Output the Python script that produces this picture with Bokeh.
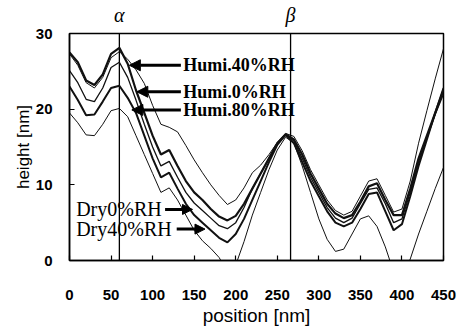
from bokeh.plotting import figure
from bokeh.models import (Range1d, FixedTicker, Label, Arrow, NormalHead,
                          LinearAxis, Title)
from bokeh.embed import file_html
from bokeh.resources import INLINE

# ---------------- data ----------------
positions = [0, 10, 20, 30, 40, 50, 60, 70, 80, 90,
             100, 110, 120, 130, 140, 150, 160, 170, 180, 190,
             200, 210, 220, 230, 240, 250, 260, 270, 280, 290,
             300, 310, 320, 330, 340, 350, 360, 370, 380, 390,
             400, 410, 420, 430, 440, 450]

curve_a = [27.5, 26.2, 23.8, 23.2, 24.6, 27.3, 28.1, 26.0, 22.5, 19.5,
           16.5, 14.0, 14.6, 12.5, 10.5, 9.0, 8.0, 6.8, 5.8, 5.3,
           5.9, 7.5, 9.5, 11.5, 13.5, 15.5, 16.7, 16.0, 14.0, 11.5,
           9.5, 7.5, 6.2, 5.6, 6.0, 7.8, 9.8, 10.2, 8.0, 6.0,
           6.0, 9.5, 13.5, 16.5, 19.5, 22.5]

curve_b = [27.3, 25.8, 23.5, 22.8, 24.2, 26.8, 27.6, 26.6, 25.2, 23.4,
           20.5, 18.0, 17.6, 17.0, 15.2, 13.3, 11.6, 10.0, 8.6, 7.4,
           8.0, 9.6, 11.6, 12.6, 14.0, 15.6, 16.8, 16.4, 14.5, 12.0,
           10.0, 8.0, 6.6, 6.0, 6.5, 8.5, 10.5, 10.8, 8.6, 6.4,
           6.8, 10.5, 15.5, 19.8, 24.0, 28.0]

curve_c = [25.1, 23.5, 21.3, 21.0, 22.8, 25.5, 26.2, 24.2, 21.2, 18.0,
           15.0, 12.5, 13.1, 11.0, 9.0, 7.6, 6.6, 5.6, 4.6, 4.2,
           5.0, 7.0, 9.5, 11.5, 13.5, 15.5, 16.6, 15.8, 13.5, 11.0,
           9.0, 7.0, 5.6, 5.0, 5.6, 7.5, 9.4, 9.6, 7.5, 5.0,
           5.5, 9.0, 13.0, 16.2, 19.3, 22.0]

curve_d = [23.0, 21.2, 19.2, 19.3, 21.0, 22.8, 23.1, 21.5, 19.5, 16.5,
           13.5, 11.0, 11.6, 9.5, 7.5, 6.0, 5.0, 4.0, 3.0, 2.4,
           3.5, 5.5, 8.0, 10.5, 13.0, 15.3, 16.6, 15.5, 13.0, 10.5,
           8.5, 6.5, 5.0, 4.5, 5.0, 6.8, 8.8, 9.0, 6.5, 4.0,
           4.8, 8.5, 12.5, 16.0, 19.5, 22.8]

curve_e = [19.5, 18.2, 16.6, 16.5, 18.0, 19.8, 20.1, 19.0, 16.5, 14.0,
           11.5, 9.0, 9.6, 8.0, 6.0, 4.0, 2.6, 1.6, 0.4, -1.5,
           -0.6, 2.5, 6.0, 9.0, 12.0, 14.6, 16.3, 15.5, 12.5, 9.0,
           5.5, 2.8, 1.2, 1.5, 3.5, 5.5, 5.9, 4.5, 1.8, -1.5,
           -2.5, 0.2, 3.5, 6.5, 9.5, 12.3]

x_ticks = [0, 50, 100, 150, 200, 250, 300, 350, 400, 450]
y_ticks = [0, 10, 20, 30]

marker_x = [60, 266]
marker_names = ["\u03b1", "\u03b2"]

humi_labels = ["Humi.40%RH", "Humi.0%RH", "Humi.80%RH"]
dry_labels = ["Dry0%RH", "Dry40%RH"]

# ---------------- figure ----------------
p = figure(width=459, height=329, output_backend="svg", toolbar_location=None,
           x_range=Range1d(0, 450), y_range=Range1d(0, 30),
           min_border_left=69, min_border_right=16,
           min_border_top=29, min_border_bottom=69,
           background_fill_color="white", border_fill_color="white")

p.xgrid.visible = False
p.ygrid.visible = False
p.outline_line_color = "black"
p.outline_line_width = 1.5

for ax in (p.xaxis, p.yaxis):
    ax.axis_line_color = "black"
    ax.axis_line_width = 1.5
    ax.major_tick_in = 5
    ax.major_tick_out = 0
    ax.minor_tick_line_color = None
    ax.major_tick_line_color = "black"
    ax.major_tick_line_width = 1.2
    ax.major_label_text_font = "Liberation Sans"
    ax.major_label_text_font_style = "bold"
    ax.major_label_text_font_size = "15px"
    ax.major_label_text_color = "black"

p.xaxis.ticker = FixedTicker(ticks=x_ticks)
p.yaxis.ticker = FixedTicker(ticks=y_ticks)
p.xaxis.major_label_standoff = 29
p.yaxis.major_label_standoff = 17
p.yaxis.major_label_text_baseline = "top"

# greek marker labels as an axis above the frame
top_axis = LinearAxis(ticker=FixedTicker(ticks=marker_x),
                      major_label_overrides={mx: nm for mx, nm in zip(marker_x, marker_names)},
                      axis_line_color=None, major_tick_line_color=None,
                      minor_tick_line_color=None, major_label_standoff=2,
                      major_label_text_font="Liberation Serif",
                      major_label_text_font_style="italic",
                      major_label_text_font_size="20px",
                      major_label_text_color="black")
p.add_layout(top_axis, "above")

# axis titles
p.add_layout(Title(text="position [nm]", align="center", offset=18,
                   text_font="Liberation Sans", text_font_style="normal",
                   text_font_size="19px", text_color="black", standoff=1),
             "below")
p.add_layout(Title(text="height [nm]", align="center", offset=25,
                   text_font="Liberation Sans", text_font_style="normal",
                   text_font_size="17px", text_color="black", standoff=0),
             "left")

# vertical marker lines
p.segment(x0=marker_x, y0=[0, 0], x1=marker_x, y1=[30, 30],
          line_color="black", line_width=1.3)

series = [(curve_b, 1.0), (curve_e, 1.0), (curve_c, 1.3),
          (curve_d, 2.0), (curve_a, 2.2)]
for ys, w in series:
    p.line(positions, ys, line_color="#111111", line_width=w)

# Humi labels with arrows
humi_y = [25.8, 22.3, 19.9]
humi_tip = [72, 81, 75]
for name, yy, tip in zip(humi_labels, humi_y, humi_tip):
    p.add_layout(Label(x=137, y=yy, text=name, text_align="left",
                       text_baseline="middle", text_font="Liberation Serif",
                       text_font_style="bold", text_font_size="18px",
                       text_color="black"))
    p.add_layout(Arrow(end=NormalHead(size=11, fill_color="black",
                                      line_color="black"),
                       x_start=134, y_start=yy, x_end=tip, y_end=yy,
                       line_color="black", line_width=3))

# Dry labels with arrows
dry_y = [6.75, 4.15]
dry_start = [115, 129]
dry_tip = [148, 163]
for name, yy, st, tip in zip(dry_labels, dry_y, dry_start, dry_tip):
    p.add_layout(Label(x=8, y=yy, text=name, text_align="left",
                       text_baseline="middle", text_font="Liberation Serif",
                       text_font_size="20px", text_color="black"))
    p.add_layout(Arrow(end=NormalHead(size=10, fill_color="black",
                                      line_color="black"),
                       x_start=st, y_start=yy, x_end=tip, y_end=yy,
                       line_color="black", line_width=3))

open("out.html", "w").write(file_html(p, INLINE))
